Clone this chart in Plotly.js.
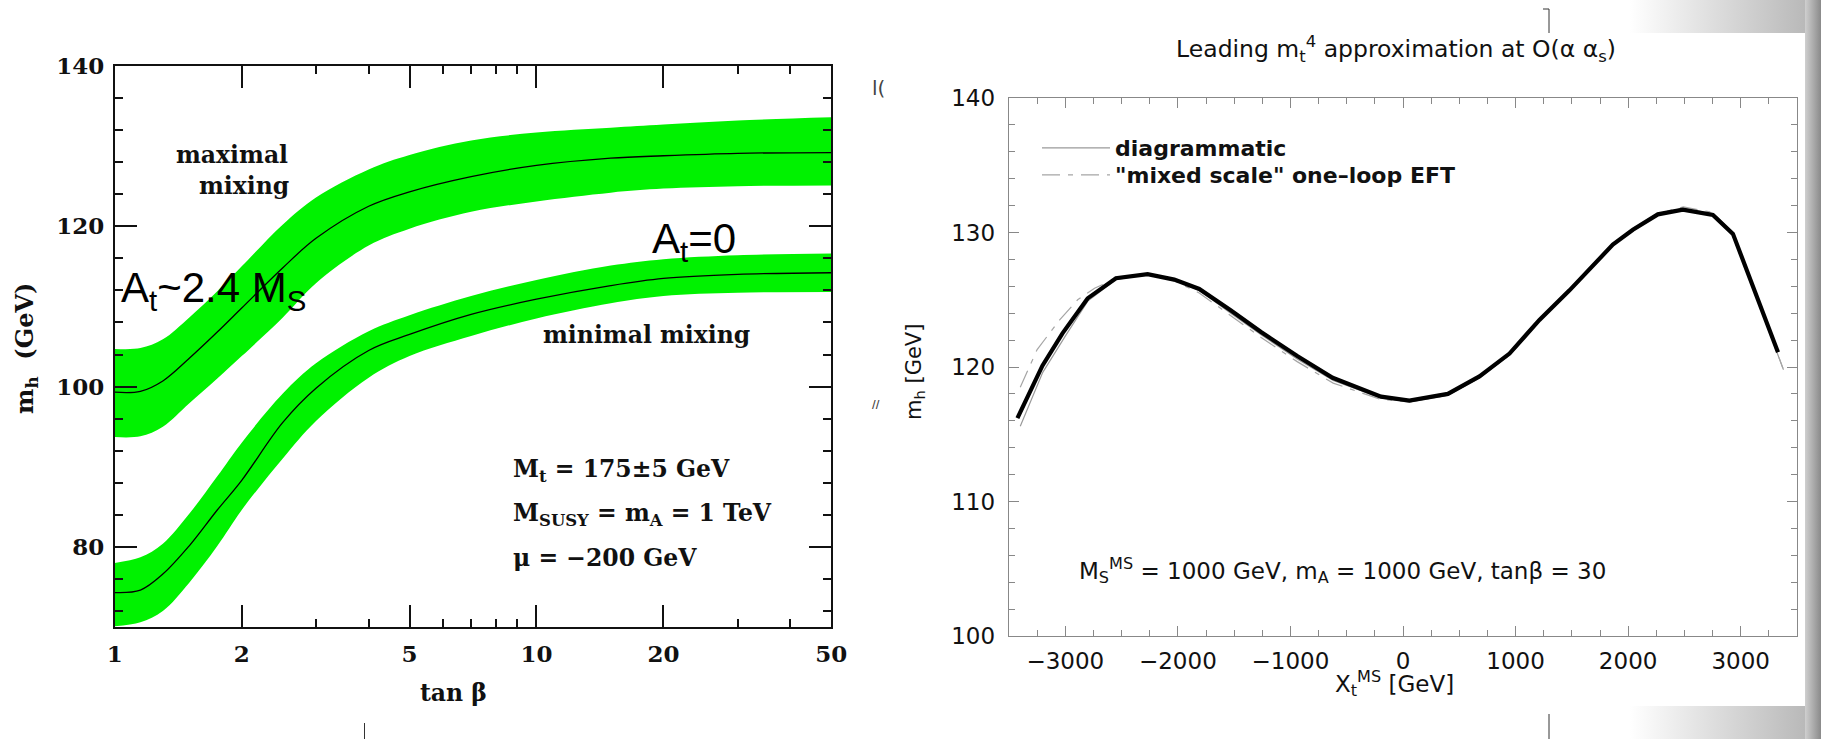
<!DOCTYPE html>
<html>
<head>
<meta charset="utf-8">
<script src="https://cdn.plot.ly/plotly-3.0.1.min.js"></script>
<style>
html,body{margin:0;padding:0;background:#fff;}
#wrap{position:relative;width:1821px;height:739px;overflow:hidden;background:#fff;}
#chart{position:absolute;left:0;top:0;width:1821px;height:739px;}
.sh{position:absolute;}
</style>
</head>
<body>
<div id="wrap">
  <div class="sh" style="left:1630px;top:0;width:175px;height:33px;background:linear-gradient(to right,rgba(185,185,185,0),rgba(185,185,185,1));"></div>
  <div class="sh" style="left:1630px;top:706px;width:175px;height:33px;background:linear-gradient(to right,rgba(185,185,185,0),rgba(185,185,185,1));"></div>
  <div class="sh" style="left:1805px;top:0;width:16px;height:739px;background:linear-gradient(to right,#cfcfcf,#8a8a8a);"></div>
  <div id="chart"></div>
</div>
<script>
// ---------- Left panel: m_h vs tan(beta) ----------
const tanb = [1, 1.15, 1.3, 1.5, 1.75, 2, 2.5, 3, 4, 5, 7, 10, 15, 20, 30, 50];
const maxMixCentral = [99.3, 99.4, 100.7, 103.5, 106.8, 109.8, 114.8, 118.5, 122.5, 124.3, 126.2, 127.6, 128.5, 128.8, 129.1, 129.2];
const maxMixUpper   = [104.7, 104.8, 105.9, 108.6, 111.9, 115.0, 120.2, 123.6, 127.1, 128.9, 130.7, 131.7, 132.3, 132.7, 133.2, 133.6];
const maxMixLower   = [93.7, 93.8, 95.0, 97.9, 101.0, 103.8, 108.6, 112.9, 117.6, 119.7, 121.8, 123.1, 124.2, 124.7, 125.0, 125.1];
const minMixCentral = [74.3, 74.6, 76.6, 80.1, 84.6, 88.3, 95.5, 99.8, 104.5, 106.5, 109.0, 110.9, 112.6, 113.5, 114.0, 114.2];
const minMixUpper   = [78.0, 78.7, 80.4, 84.1, 88.8, 93.0, 99.1, 102.9, 106.9, 108.9, 111.3, 113.3, 115.1, 115.9, 116.4, 116.6];
const minMixLower   = [70.1, 70.6, 72.0, 75.5, 80.1, 84.6, 91.0, 95.7, 101.1, 103.8, 106.3, 108.5, 110.4, 111.3, 111.7, 111.8];
const leftXTicks = [1, 2, 5, 10, 20, 50];
const leftXTickText = ['1', '2', '5', '10', '20', '50'];
const leftXMinor = [3, 4, 6, 7, 8, 9, 30, 40];
const leftYTicks = [80, 100, 120, 140];

// ---------- Right panel: m_h vs X_t ----------
const xtThick = [-3425, -3203, -3025, -2802, -2550, -2269, -2032, -1810, -1528, -1261, -936, -625, -195, 57, 398, 679, 946, 1212, 1479, 1864, 2042, 2264, 2486, 2753, 2931, 3331];
const mhThick = [116.2, 120.1, 122.5, 125.1, 126.6, 126.9, 126.5, 125.8, 124.2, 122.6, 120.8, 119.2, 117.8, 117.5, 118.0, 119.3, 121.0, 123.5, 125.7, 129.1, 130.2, 131.35, 131.7, 131.3, 129.9, 121.1];
const xtDiag = [-3400, -3200, -3000, -2800, -2550, -2270, -2030, -1810, -1530, -1260, -940, -620, -200, 60, 400, 680, 950, 1210, 1480, 1860, 2040, 2260, 2490, 2750, 2930, 3375];
const mhDiag = [115.6, 119.6, 122.3, 124.9, 126.5, 126.9, 126.5, 125.7, 124.0, 122.4, 120.6, 119.0, 117.7, 117.4, 117.9, 119.2, 120.9, 123.4, 125.7, 129.1, 130.2, 131.4, 131.8, 131.4, 129.9, 119.9];
const xtEft = [-3400, -3250, -3050, -2890, -2740, -2550, -2270, -2030, -1810, -1530, -1260, -940, -620, -200, 60, 400, 680, 950, 1210, 1480, 1860, 2040, 2260, 2490, 2750, 2930, 3380];
const mhEft = [118.5, 121.3, 123.5, 125.0, 125.85, 126.6, 126.9, 126.4, 125.5, 123.8, 122.2, 120.4, 118.8, 117.6, 117.4, 117.9, 119.2, 120.9, 123.4, 125.7, 129.1, 130.2, 131.4, 131.9, 131.5, 130.0, 119.8];

const W = 1821, H = 739;
const px = v => v / W;
const py = v => 1 - v / H;

const GREEN = 'rgb(0,242,0)';
const serifTick = {family: 'DejaVu Serif', size: 23, color: '#111', weight: 'bold'};
const serifB = {family: 'DejaVu Serif', size: 23.5, color: '#111', weight: 'bold'};
const sans = {family: 'DejaVu Sans', size: 23, color: '#111'};
const SM = 1.0;

const band = (lo, hi) => [
  {x: tanb, y: lo, xaxis: 'x', yaxis: 'y', mode: 'lines', line: {width: 0, shape: 'spline', smoothing: SM}, showlegend: false, hoverinfo: 'skip'},
  {x: tanb, y: hi, xaxis: 'x', yaxis: 'y', mode: 'lines', line: {width: 0, shape: 'spline', smoothing: SM}, fill: 'tonexty', fillcolor: GREEN, showlegend: false, hoverinfo: 'skip'}
];

const traces = [
  ...band(maxMixLower, maxMixUpper),
  {x: tanb, y: maxMixCentral, xaxis: 'x', yaxis: 'y', mode: 'lines', line: {color: '#000', width: 1.3, shape: 'spline', smoothing: SM}, showlegend: false},
  ...band(minMixLower, minMixUpper),
  {x: tanb, y: minMixCentral, xaxis: 'x', yaxis: 'y', mode: 'lines', line: {color: '#000', width: 1.3, shape: 'spline', smoothing: SM}, showlegend: false},
  {x: xtDiag, y: mhDiag, xaxis: 'x2', yaxis: 'y2', mode: 'lines', name: 'diagrammatic', legend: 'legend', line: {color: '#9a9a9a', width: 1.2}},
  {x: xtEft, y: mhEft, xaxis: 'x2', yaxis: 'y2', mode: 'lines', name: '"mixed scale" one\u2013loop EFT', legend: 'legend2', line: {color: '#a5a5a5', width: 1.2, dash: '18px,8px,5px,8px'}},
  {x: xtThick, y: mhThick, xaxis: 'x2', yaxis: 'y2', mode: 'lines', showlegend: false, line: {color: '#000', width: 4.2}}
];

const ann = (text, x, y, font, extra) => Object.assign({text, x: px(x), y: py(y), xref: 'paper', yref: 'paper', showarrow: false, font, xanchor: 'center', yanchor: 'middle'}, extra || {});

const bigSans = {family: 'Liberation Sans', size: 42, color: '#000'};

const annotations = [
  ann('maximal', 232, 155, serifB),
  ann('mixing', 244, 186, serifB),
  ann('minimal mixing', 646, 335, serifB),
  ann('M<sub>t</sub> = 175±5 GeV', 511, 470, serifB, {xanchor: 'left'}),
  ann('M<sub>SUSY</sub> = m<sub>A</sub> = 1 TeV', 511, 514, serifB, {xanchor: 'left'}),
  ann('μ = −200 GeV', 511, 558, serifB, {xanchor: 'left'}),
  ann('tan β', 453, 693, serifB),
  ann('m<sub>h</sub>  (GeV)', 26, 349, {family: 'DejaVu Serif', size: 24, color: '#111', weight: 'bold'}, {textangle: -90}),
  ann('A<sub>t</sub>~2.4 M<sub>S</sub>', 119, 290, bigSans, {xanchor: 'left'}),
  ann('A<sub>t</sub>=0', 650, 242, bigSans, {xanchor: 'left'}),
  ann('M<sub>S</sub><sup>MS</sup> = 1000 GeV, m<sub>A</sub> = 1000 GeV, tanβ = 30', 1077, 570, sans, {xanchor: 'left'}),
  ann('X<sub>t</sub><sup>MS</sup> [GeV]', 1394, 683, sans),
  ann('m<sub>h</sub> [GeV]', 915, 372, {family: 'DejaVu Sans', size: 21, color: '#111'}, {textangle: -90}),
  ann('l(', 878, 88, {family: 'DejaVu Sans', size: 20, color: '#444'}),
  ann('//', 876, 404, {family: 'DejaVu Sans', size: 10, color: '#444', weight: 'bold'})
];

const shapes = [
  {type: 'line', xref: 'paper', yref: 'paper', x0: px(1549), x1: px(1549), y0: py(9), y1: py(33), line: {color: '#333', width: 1}},
  {type: 'line', xref: 'paper', yref: 'paper', x0: px(1543), x1: px(1549), y0: py(9), y1: py(9), line: {color: '#333', width: 1}},
  {type: 'line', xref: 'paper', yref: 'paper', x0: px(1549), x1: px(1549), y0: py(714), y1: py(739), line: {color: '#333', width: 1}},
  {type: 'line', xref: 'paper', yref: 'paper', x0: px(364.5), x1: px(364.5), y0: py(723), y1: py(739), line: {color: '#333', width: 1}}
];

const leftAxisCommon = {
  ticks: 'inside', ticklen: 22, tickwidth: 2, tickcolor: '#111',
  showline: true, linewidth: 2, linecolor: '#111', mirror: 'allticks',
  showgrid: false, zeroline: false, tickfont: serifTick
};
const rightAxisCommon = {
  ticks: 'inside', ticklen: 10, tickwidth: 1, tickcolor: '#888',
  showline: true, linewidth: 1.3, linecolor: '#888', mirror: 'allticks',
  showgrid: false, zeroline: false, tickfont: {family: 'DejaVu Sans', size: 23, color: '#111'}
};

const legendCommon = {
  xanchor: 'left', yanchor: 'top', bgcolor: 'rgba(0,0,0,0)', borderwidth: 0,
  font: {family: 'DejaVu Sans', size: 22, color: '#111', weight: 'bold'},
  itemwidth: 68
};

const layout = {
  width: W, height: H,
  margin: {l: 0, r: 0, t: 0, b: 0},
  paper_bgcolor: 'rgba(0,0,0,0)', plot_bgcolor: 'rgba(0,0,0,0)',
  title: {text: 'Leading m<sub>t</sub><sup>4</sup> approximation at O(α α<sub>s</sub>)', x: px(1396), y: py(49), xanchor: 'center', yanchor: 'middle', font: {family: 'DejaVu Sans', size: 23.5, color: '#111'}},
  xaxis: Object.assign({}, leftAxisCommon, {
    domain: [px(114.8), px(831.2)], anchor: 'y', type: 'log', range: [0, Math.log10(50)],
    tickmode: 'array', tickvals: leftXTicks, ticktext: leftXTickText, ticklabelstandoff: 5,
    minor: {tickmode: 'array', tickvals: leftXMinor, ticks: 'inside', ticklen: 8, tickwidth: 2, tickcolor: '#111'}
  }),
  yaxis: Object.assign({}, leftAxisCommon, {
    domain: [1 - 627 / H, 1 - 66 / H], anchor: 'x', range: [70, 140],
    tickmode: 'array', tickvals: leftYTicks, ticklabelstandoff: 4,
    minor: {dtick: 4, tick0: 80, ticks: 'inside', ticklen: 8, tickwidth: 2, tickcolor: '#111'}
  }),
  xaxis2: Object.assign({}, rightAxisCommon, {
    domain: [px(1009), px(1797)], anchor: 'y2', range: [-3500, 3500],
    tick0: 0, dtick: 1000, ticklabelstandoff: 4,
    minor: {dtick: 250, ticks: 'inside', ticklen: 6, tickwidth: 1, tickcolor: '#888'}
  }),
  yaxis2: Object.assign({}, rightAxisCommon, {
    domain: [1 - 636 / H, 1 - 98 / H], anchor: 'x2', range: [100, 140],
    tick0: 100, dtick: 10, ticklabelstandoff: 8,
    minor: {dtick: 2, ticks: 'inside', ticklen: 6, tickwidth: 1, tickcolor: '#888'}
  }),
  showlegend: true,
  legend: Object.assign({}, legendCommon, {x: px(1037), y: py(127)}),
  legend2: Object.assign({}, legendCommon, {x: px(1037), y: py(154)}),
  annotations, shapes
};

Plotly.newPlot('chart', traces, layout, {displayModeBar: false, staticPlot: true});
</script>
</body>
</html>
